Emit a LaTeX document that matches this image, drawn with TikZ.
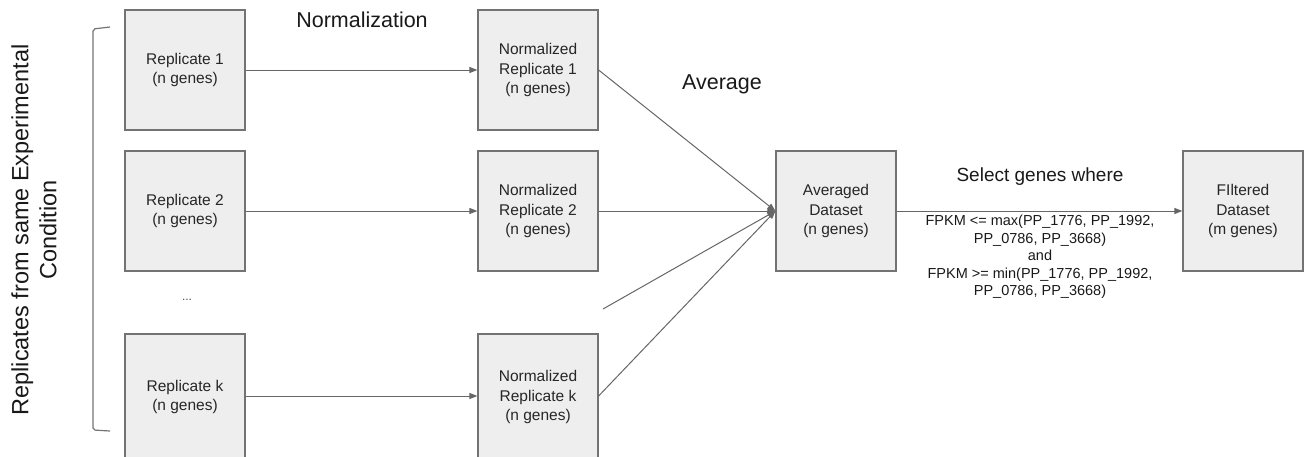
\documentclass[tikz,border=0pt]{standalone}
\usepackage{fontspec}
\setmainfont{Liberation Sans}
\usetikzlibrary{arrows.meta}
\definecolor{boxfill}{HTML}{EEEEEE}
\definecolor{boxline}{HTML}{737373}
\definecolor{arrowgray}{HTML}{666666}

\tikzset{
  databox/.style={draw=boxline, line width=1.2pt, fill=boxfill, minimum width=120pt,
    minimum height=120pt, align=center, inner sep=0pt,
    font=\fontsize{15.5}{19.5}\selectfont, text=black!85},
  flow/.style={draw=arrowgray, line width=1pt, -{Triangle[length=8pt,width=6pt]}},
  steplabel/.style={font=\fontsize{21.5}{26}\selectfont, text=black!90},
}

\begin{document}
\begin{tikzpicture}[x=1pt,y=-1pt]
    \useasboundingbox (0,0) rectangle (1309,456);

    % Draw the replicate boxes
    \node[databox] (R1) at (185,70) {Replicate 1\\(n genes)};
    \node[databox] (R2) at (185,211) {Replicate 2\\(n genes)};
    \node[databox, minimum height=126pt] (Rk) at (185,397) {Replicate k\\(n genes)};
    \node[font=\fontsize{12}{14}\selectfont, text=black!70] (dots) at (187,300) {...};

    % Draw the normalized boxes
    \node[databox] (N1) at (538,70) {Normalized\\Replicate 1\\(n genes)};
    \node[databox] (N2) at (538,211) {Normalized\\Replicate 2\\(n genes)};
    \node[databox, minimum height=126pt] (Nk) at (538,397) {Normalized\\Replicate k\\(n genes)};

    % Draw the result boxes
    \node[databox] (Avg) at (836,211) {Averaged\\Dataset\\(n genes)};
    \node[databox] (Flt) at (1243,211) {FIltered\\Dataset\\(m genes)};
    \coordinate (M) at (603,309); % loose end

    % Draw the step labels
    \node[steplabel] (norm) at (362,20) {Normalization};
    \node[steplabel] (avg) at (722,84) {Average};
    \node[font=\fontsize{19}{23}\selectfont, text=black!90] (sel) at (1040,177) {Select genes where};
    \node[font=\fontsize{14.5}{17.5}\selectfont, text=black!90, align=center] (cond) at (1040,257)
      {FPKM <= max(PP\_1776, PP\_1992,\\PP\_0786, PP\_3668)\\and\\FPKM >= min(PP\_1776, PP\_1992,\\PP\_0786, PP\_3668)};

    % Draw the arrows
    \draw[flow] (R1) -- (N1);
    \draw[flow] (R2) -- (N2);
    \draw[flow] (Rk.east |- 0,396) -- (Nk.west |- 0,396);
    \draw[flow] (N1.east) -- (Avg.west);
    \draw[flow] (N2) -- (Avg);
    \draw[flow] (M) -- (Avg.west);
    \draw[flow] (Nk.east |- 0,396) -- (Avg.west);
    \draw[flow] (Avg) -- (Flt);

    % Draw the bracket
    \draw[boxline, line width=1.2pt, rounded corners=2pt] (110,27) -- (93,29) -- (93,430) -- (110,431);
    \node[rotate=90, align=center, font=\fontsize{23.5}{28}\selectfont, text=black!90] (grp) at (34,230)
      {Replicates from same Experimental\\Condition};

\end{tikzpicture}
\end{document}
